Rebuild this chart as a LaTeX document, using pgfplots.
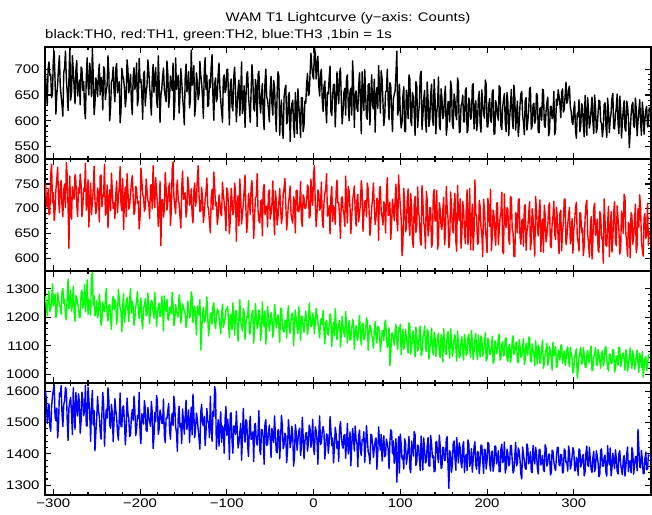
\documentclass[border=0pt]{standalone}
\usepackage{pgfplots}
\usepackage{pgfplotstable}
\pgfplotsset{compat=1.18}
\usepackage{fontspec}
\setmainfont{Liberation Sans}[FakeStretch=1.2]

\pgfplotstableread{
t a b c d
-309 688 751 1275 1601
-308 662 708 1232 1572
-307 631 703 1206 1497
-306 701 741 1268 1528
-305 714 688 1293 1560
-304 688 690 1221 1489
-303 690 769 1230 1472
-302 645 790 1259 1551
-301 652 712 1318 1583
-300 719 733 1240 1604
-299 735 676 1262 1620
-298 676 698 1281 1517
-297 613 739 1199 1506
-296 650 760 1215 1546
-295 671 784 1287 1451
-294 703 721 1262 1495
-293 726 692 1243 1594
-292 668 747 1236 1583
-291 648 757 1211 1618
-290 631 705 1290 1529
-289 609 684 1302 1487
-288 693 739 1248 1556
-287 703 750 1264 1570
-286 735 702 1203 1612
-285 682 793 1191 1603
-284 655 768 1271 1508
-283 620 703 1335 1443
-282 681 620 1230 1547
-281 741 766 1257 1568
-280 640 691 1296 1580
-279 655 679 1222 1525
-278 726 744 1245 1462
-277 698 731 1310 1611
-276 664 719 1218 1535
-275 633 769 1186 1478
-274 697 756 1276 1596
-273 717 708 1269 1549
-272 648 684 1252 1521
-271 665 742 1231 1592
-270 679 731 1199 1567
-269 631 770 1201 1466
-268 704 750 1284 1503
-267 700 684 1296 1597
-266 659 708 1232 1574
-265 676 741 1253 1521
-264 621 735 1316 1540
-263 604 792 1219 1619
-262 685 697 1255 1489
-261 722 709 1332 1489
-260 670 759 1210 1612
-259 650 663 1264 1574
-258 712 722 1237 1525
-257 689 752 1208 1440
-256 647 688 1348 1551
-255 740 713 1357 1602
-254 690 740 1244 1493
-253 612 786 1276 1538
-252 633 716 1205 1410
-251 683 690 1225 1466
-250 676 701 1259 1512
-249 647 742 1198 1583
-248 689 731 1216 1538
-247 710 673 1281 1521
-246 650 766 1247 1474
-245 684 768 1172 1447
-244 674 704 1189 1527
-243 621 727 1253 1596
-242 705 725 1233 1559
-241 699 790 1219 1425
-240 641 687 1262 1496
-239 658 694 1302 1542
-238 668 748 1211 1514
-237 726 661 1187 1611
-236 692 718 1240 1571
-235 600 738 1246 1493
-234 626 696 1198 1482
-233 675 772 1158 1558
-232 680 737 1255 1530
-231 704 701 1274 1439
-230 657 712 1227 1505
-229 637 680 1263 1576
-228 701 729 1245 1541
-227 711 756 1176 1516
-226 654 692 1205 1468
-225 668 723 1298 1444
-224 676 743 1267 1513
-223 596 785 1231 1594
-222 618 709 1219 1487
-221 702 696 1150 1487
-220 687 761 1236 1549
-219 681 658 1283 1553
-218 663 720 1182 1502
-217 627 744 1214 1429
-216 645 684 1249 1476
-215 718 771 1269 1578
-214 699 735 1228 1531
-213 654 699 1185 1512
-212 672 706 1260 1455
-211 690 730 1301 1462
-210 638 752 1214 1518
-209 612 767 1256 1541
-208 684 726 1238 1507
-207 703 688 1172 1584
-206 661 697 1196 1539
-205 672 745 1237 1458
-204 712 740 1257 1480
-203 629 711 1291 1523
-202 643 715 1221 1512
-201 721 659 1195 1596
-200 675 683 1243 1463
-199 680 782 1268 1433
-198 652 758 1190 1528
-197 603 728 1160 1515
-196 690 724 1232 1495
-195 696 695 1244 1570
-194 629 701 1265 1546
-193 655 760 1205 1476
-192 668 737 1209 1471
-191 718 716 1286 1548
-190 697 711 1240 1519
-189 667 680 1177 1503
-188 641 745 1226 1488
-187 611 749 1260 1567
-186 679 700 1253 1534
-185 709 787 1219 1417
-184 655 729 1197 1452
-183 684 702 1288 1532
-182 703 763 1231 1503
-181 640 735 1168 1586
-180 626 713 1217 1568
-179 726 664 1241 1462
-178 672 690 1249 1481
-177 597 756 1203 1540
-176 649 625 1204 1526
-175 661 718 1275 1498
-174 686 718 1238 1497
-173 702 683 1152 1575
-172 660 699 1275 1459
-171 648 773 1229 1436
-170 637 742 1221 1514
-169 716 697 1264 1513
-168 691 714 1195 1538
-167 626 743 1190 1561
-166 645 752 1230 1476
-165 687 666 1237 1447
-164 670 695 1212 1509
-163 659 781 1288 1529
-162 712 795 1246 1490
-161 602 724 1171 1584
-160 633 706 1188 1552
-159 722 690 1245 1486
-158 661 739 1224 1467
-157 680 758 1209 1408
-156 688 716 1201 1521
-155 615 711 1279 1552
-154 650 685 1259 1485
-153 701 661 1180 1497
-152 677 744 1214 1433
-151 647 776 1248 1543
-150 624 719 1235 1506
-149 592 728 1222 1463
-148 683 732 1213 1519
-147 710 683 1164 1571
-146 656 698 1186 1478
-145 666 764 1257 1505
-144 695 746 1229 1540
-143 625 707 1198 1436
-142 640 711 1205 1495
-141 737 740 1290 1549
-140 669 688 1272 1461
-139 684 671 1181 1591
-138 707 737 1221 1527
-137 609 752 1240 1452
-136 631 705 1196 1482
-135 693 718 1138 1530
-134 674 759 1240 1511
-133 641 787 1226 1478
-132 652 726 1208 1448
-131 715 694 1262 1415
-130 688 696 1085 1534
-129 673 743 1151 1558
-128 644 719 1210 1497
-127 605 672 1234 1490
-126 697 691 1183 1520
-125 722 718 1188 1427
-124 661 734 1226 1469
-123 688 762 1272 1545
-122 628 707 1199 1503
-121 630 697 1135 1503
-120 680 674 1171 1452
-119 664 651 1213 1584
-118 705 723 1215 1488
-117 728 739 1176 1440
-116 649 698 1238 1536
-115 601 774 1251 1520
-114 672 745 1187 1615
-113 683 706 1160 1597
-112 637 713 1203 1415
-111 644 668 1229 1463
-110 690 684 1222 1509
-109 712 728 1203 1425
-108 664 711 1175 1492
-107 638 690 1142 1534
-106 618 686 1209 1437
-105 597 754 1247 1489
-104 683 729 1164 1480
-103 689 712 1179 1402
-102 655 693 1197 1511
-101 660 655 1226 1551
-100 699 742 1228 1459
-99 700 735 1238 1510
-98 641 705 1180 1476
-97 592 650 1129 1382
-96 670 677 1212 1528
-95 681 741 1205 1531
-94 628 718 1156 1443
-93 619 688 1251 1402
-92 686 695 1193 1489
-91 704 752 1137 1489
-90 659 734 1221 1462
-89 598 634 1224 1536
-88 632 708 1170 1478
-87 662 726 1116 1419
-86 679 665 1204 1436
-85 610 760 1262 1468
-84 651 722 1185 1497
-83 714 669 1170 1380
-82 614 690 1152 1451
-81 633 708 1231 1545
-80 668 737 1216 1473
-79 587 768 1122 1437
-78 642 699 1178 1509
-77 691 652 1203 1503
-76 695 676 1199 1428
-75 648 731 1259 1391
-74 625 714 1141 1482
-73 597 689 1145 1520
-72 657 743 1190 1446
-71 709 757 1215 1452
-70 680 701 1224 1470
-69 624 640 1109 1375
-68 619 683 1168 1493
-67 680 722 1248 1497
-66 664 725 1201 1439
-65 589 771 1161 1428
-64 690 696 1175 1466
-63 696 676 1226 1538
-62 637 671 1210 1412
-61 615 714 1118 1398
-60 651 718 1159 1478
-59 672 645 1254 1476
-58 608 740 1186 1451
-57 583 749 1168 1367
-56 675 688 1223 1497
-55 700 705 1106 1509
-54 646 705 1164 1427
-53 640 663 1238 1431
-52 622 732 1198 1469
-51 598 738 1152 1492
-50 660 679 1180 1445
-49 686 690 1217 1389
-48 633 709 1194 1481
-47 611 756 1129 1463
-46 678 692 1158 1436
-45 667 647 1246 1521
-44 615 736 1210 1463
-43 579 718 1163 1406
-42 652 667 1183 1404
-41 695 683 1209 1478
-40 687 713 1167 1472
-39 572 741 1112 1384
-38 624 701 1229 1448
-37 640 670 1233 1523
-36 583 684 1176 1490
-35 566 729 1151 1417
-34 646 742 1149 1429
-33 661 761 1189 1466
-32 669 708 1190 1457
-31 594 657 1127 1372
-30 598 680 1207 1413
-29 648 712 1241 1509
-28 655 724 1161 1475
-27 560 746 1144 1420
-26 611 690 1188 1438
-25 633 679 1212 1488
-24 640 671 1215 1461
-23 589 724 1101 1361
-22 568 716 1172 1392
-21 655 651 1226 1493
-20 628 737 1194 1469
-19 575 737 1164 1412
-18 662 695 1143 1444
-17 628 694 1237 1472
-16 607 710 1180 1482
-15 568 755 1119 1395
-14 645 677 1205 1421
-13 645 664 1203 1517
-12 579 728 1166 1456
-11 591 722 1148 1384
-10 638 701 1191 1437
-9 634 701 1222 1466
-8 671 713 1187 1468
-7 692 748 1139 1409
-6 649 742 1162 1432
-5 652 681 1250 1492
-4 693 686 1206 1479
-3 731 760 1167 1421
-2 704 719 1171 1450
-1 688 707 1215 1510
0 681 772 1198 1415
1 742 787 1142 1398
2 730 707 1183 1486
3 681 664 1231 1473
4 712 690 1209 1443
5 725 738 1180 1367
6 668 731 1160 1462
7 648 697 1128 1521
8 690 702 1189 1430
9 700 754 1196 1435
10 641 680 1174 1471
11 618 662 1224 1487
12 667 711 1151 1468
13 677 730 1106 1384
14 629 739 1182 1425
15 596 771 1188 1464
16 655 685 1145 1459
17 652 689 1137 1402
18 683 706 1173 1437
19 706 649 1212 1519
20 618 724 1196 1476
21 610 745 1098 1426
22 648 674 1158 1451
23 671 706 1183 1371
24 670 697 1134 1419
25 588 668 1230 1485
26 635 735 1177 1464
27 695 758 1121 1417
28 659 712 1160 1440
29 633 712 1176 1376
30 692 683 1189 1481
31 702 640 1096 1503
32 640 720 1141 1456
33 594 724 1204 1428
34 619 698 1167 1418
35 655 689 1143 1459
36 663 664 1132 1462
37 611 766 1221 1386
38 684 711 1178 1437
39 689 671 1110 1497
40 632 745 1150 1400
41 600 735 1189 1420
42 657 702 1119 1470
43 663 650 1124 1362
44 611 683 1161 1428
45 716 717 1193 1481
46 676 730 1184 1451
47 587 746 1088 1409
48 649 696 1145 1489
49 658 665 1171 1448
50 625 717 1128 1433
51 618 729 1119 1359
52 668 673 1166 1457
53 693 691 1207 1476
54 641 708 1139 1412
55 575 757 1103 1395
56 695 736 1173 1445
57 647 654 1180 1442
58 620 689 1121 1471
59 699 715 1125 1373
60 654 716 1157 1423
61 606 684 1198 1490
62 603 752 1185 1449
63 670 739 1084 1406
64 672 695 1140 1397
65 592 646 1172 1368
66 647 670 1163 1462
67 689 701 1136 1461
68 629 721 1127 1430
69 623 752 1092 1389
70 681 704 1155 1418
71 578 668 1185 1440
72 651 682 1132 1451
73 664 721 1110 1351
74 624 715 1168 1403
75 707 636 1166 1486
76 663 741 1149 1439
77 615 745 1079 1412
78 697 694 1115 1462
79 681 683 1152 1377
80 636 667 1154 1425
81 591 714 1118 1458
82 609 708 1178 1391
83 656 651 1190 1396
84 658 729 1137 1447
85 700 763 1094 1434
86 640 686 1110 1416
87 602 692 1163 1352
88 674 713 1030 1438
89 667 638 1072 1477
90 615 671 1143 1470
91 579 719 1145 1401
92 643 699 1126 1441
93 651 676 1102 1370
94 658 718 1150 1402
95 693 750 1175 1449
96 735 676 1113 1310
97 611 655 1087 1386
98 621 768 1164 1455
99 671 733 1150 1339
100 612 707 1176 1463
101 586 679 1068 1431
102 598 605 1121 1384
103 648 627 1158 1392
104 666 741 1087 1352
105 580 714 1106 1448
106 579 653 1158 1437
107 659 660 1131 1367
108 640 720 1102 1389
109 604 740 1074 1415
110 689 668 1181 1456
111 681 646 1168 1354
112 601 731 1070 1340
113 591 702 1093 1441
114 655 637 1143 1419
115 646 622 1152 1393
116 617 708 1096 1471
117 572 725 1061 1462
118 676 652 1166 1363
119 667 665 1134 1376
120 587 744 1081 1428
121 613 694 1090 1425
122 633 681 1154 1386
123 690 635 1169 1347
124 696 626 1065 1457
125 583 747 1076 1408
126 609 717 1128 1349
127 642 672 1139 1451
128 659 661 1170 1411
129 600 619 1097 1371
130 578 735 1079 1376
131 675 718 1157 1426
132 641 645 1149 1452
133 589 660 1053 1362
134 602 702 1090 1361
135 651 701 1121 1459
136 671 622 1162 1433
137 606 630 1084 1389
138 591 726 1068 1394
139 680 739 1147 1343
140 646 675 1131 1345
141 575 676 1062 1437
142 616 737 1099 1440
143 633 618 1128 1392
144 685 632 1145 1372
145 591 712 1071 1460
146 583 698 1058 1425
147 662 664 1139 1354
148 644 658 1119 1358
149 604 697 1043 1421
150 610 723 1161 1419
151 648 627 1112 1379
152 667 647 1074 1380
153 572 745 1070 1446
154 589 703 1137 1455
155 637 680 1150 1363
156 636 621 1091 1290
157 598 640 1056 1410
158 677 734 1160 1402
159 666 706 1123 1341
160 594 663 1063 1366
161 585 651 1085 1433
162 652 709 1127 1441
163 641 731 1139 1388
164 611 635 1094 1348
165 602 614 1046 1452
166 683 747 1152 1410
167 673 688 1108 1371
168 577 676 1057 1435
169 579 720 1067 1419
170 629 620 1115 1369
171 634 650 1132 1356
172 650 715 1078 1426
173 598 696 1050 1439
174 598 654 1140 1340
175 659 629 1117 1390
176 664 699 1066 1398
177 577 738 1076 1347
178 582 627 1129 1445
179 644 672 1141 1430
180 638 741 1089 1360
181 603 617 1059 1374
182 606 668 1153 1417
183 668 709 1120 1342
184 672 616 1052 1381
185 584 653 1078 1421
186 620 758 1119 1439
187 639 690 1143 1365
188 581 683 1076 1351
189 596 628 1051 1408
190 643 631 1138 1404
191 657 717 1098 1337
192 596 705 1060 1373
193 578 662 1135 1428
194 660 647 1124 1427
195 632 603 1063 1379
196 615 719 1084 1338
197 605 699 1110 1415
198 679 660 1146 1412
199 671 640 1047 1352
200 588 611 1055 1379
201 588 721 1127 1436
202 631 694 1113 1433
203 643 664 1069 1370
204 601 739 1071 1346
205 597 615 1095 1404
206 657 642 1132 1409
207 660 697 1038 1345
208 574 687 1047 1364
209 575 648 1118 1425
210 639 626 1108 1425
211 628 711 1072 1368
212 612 712 1082 1383
213 601 627 1130 1410
214 668 655 1141 1343
215 664 682 1049 1343
216 590 691 1058 1416
217 583 733 1103 1431
218 627 614 1116 1372
219 641 609 1064 1377
220 653 730 1069 1438
221 596 671 1126 1339
222 579 662 1127 1355
223 655 702 1056 1415
224 636 698 1045 1401
225 571 638 1098 1362
226 604 628 1104 1367
227 630 725 1041 1426
228 661 721 1062 1427
229 606 660 1117 1381
230 585 650 1135 1339
231 669 604 1070 1348
232 645 603 1077 1396
233 582 692 1106 1437
234 612 687 1114 1362
235 638 651 1045 1369
236 570 717 1040 1419
237 592 720 1121 1409
238 631 643 1099 1380
239 652 628 1060 1335
240 657 676 1063 1320
241 610 679 1096 1422
242 597 624 1125 1398
243 573 705 1034 1376
244 640 708 1052 1355
245 645 616 1108 1351
246 582 654 1090 1432
247 599 663 1067 1418
248 621 690 1131 1368
249 662 714 1127 1383
250 665 617 1048 1407
251 584 634 1043 1344
252 590 700 1107 1340
253 631 682 1086 1427
254 634 640 1070 1389
255 595 604 1029 1368
256 603 725 1118 1421
257 653 697 1078 1402
258 649 659 1036 1354
259 578 645 1102 1336
260 577 694 1094 1412
261 624 718 1037 1415
262 626 613 1058 1365
263 601 661 1091 1372
264 661 679 1120 1395
265 660 612 1021 1349
266 593 707 1041 1344
267 587 688 1070 1429
268 617 633 1086 1418
269 635 647 1108 1361
270 646 666 1032 1373
271 571 704 1044 1398
272 580 712 1097 1400
273 628 626 1083 1333
274 628 621 1055 1339
275 604 669 1015 1412
276 609 685 1113 1408
277 657 715 1066 1375
278 573 648 1072 1356
279 582 638 1097 1347
280 642 703 1023 1391
281 630 681 1030 1421
282 660 637 1085 1421
283 648 609 1075 1366
284 632 690 1050 1362
285 606 697 1101 1398
286 655 615 1103 1397
287 662 652 1039 1339
288 617 672 1061 1343
289 622 720 1082 1416
290 649 718 1031 1410
291 675 627 1052 1372
292 634 641 1088 1374
293 640 668 1096 1345
294 662 687 1047 1425
295 667 703 1026 1407
296 626 629 1094 1352
297 618 640 1072 1363
298 598 680 1058 1390
299 593 610 1004 1420
300 622 657 1020 1409
301 637 676 1060 1346
302 580 702 1076 1347
303 566 713 1089 1389
304 615 642 985 1380
305 608 633 1018 1332
306 641 614 1057 1416
307 579 692 1077 1411
308 590 690 1095 1358
309 633 652 1035 1367
310 628 661 1040 1393
311 591 605 1093 1398
312 569 625 1070 1330
313 649 681 1027 1343
314 612 707 1023 1404
315 572 717 1068 1425
316 645 648 1084 1365
317 619 630 1040 1360
318 586 602 1048 1421
319 598 660 1086 1384
320 623 684 1099 1350
321 646 598 1012 1341
322 599 635 1017 1388
323 575 701 1064 1408
324 650 711 1066 1343
325 627 646 1094 1355
326 577 655 1035 1410
327 587 679 1031 1393
328 616 616 1087 1372
329 640 612 1072 1327
330 638 694 1044 1337
331 599 688 1021 1412
332 594 639 1075 1416
333 569 642 1082 1361
334 587 590 1029 1361
335 631 720 1046 1389
336 635 676 1090 1396
337 590 626 1098 1342
338 568 624 1053 1329
339 644 671 1024 1426
340 619 705 1011 1384
341 577 603 1071 1365
342 603 651 1069 1419
343 615 694 1039 1330
344 644 612 1038 1354
345 653 641 1087 1402
346 586 693 1082 1376
347 584 714 1008 1353
348 611 635 1019 1413
349 626 625 1063 1387
350 652 706 1064 1345
351 596 680 1031 1336
352 575 657 1095 1401
353 648 608 1090 1410
354 624 618 1026 1368
355 567 695 1045 1348
356 597 684 1071 1334
357 621 650 1075 1381
358 639 729 1049 1395
359 585 723 1014 1329
360 580 649 1086 1359
361 638 632 1068 1399
362 628 604 1010 1422
363 604 672 1033 1343
364 548 668 1060 1375
365 578 601 1092 1378
366 610 692 1041 1340
367 630 686 1020 1420
368 636 628 1083 1405
369 590 644 1059 1335
370 587 675 1017 1363
371 644 709 1036 1391
372 623 611 1068 1392
373 571 626 1084 1346
374 599 700 1039 1478
375 619 663 1007 1417
376 641 728 1074 1358
377 597 702 1052 1356
378 572 633 1024 1411
379 636 617 1079 1383
380 615 604 990 1337
381 574 681 1023 1338
382 603 690 1054 1386
383 621 640 1062 1406
384 628 647 1012 1350
385 588 711 1030 1351
386 594 626 1068 1397
387 626 655 1070 1392
}\lcdata

\pgfplotsset{
  panel/.style={
    anchor=north west,
    scale only axis,
    width=606bp, height=112bp,
    xmin=-309.6, xmax=389,
    xtick={-300,-200,-100,0,100,200,300},
    xticklabels={},
    minor x tick num=4,
    minor y tick num=4,
    tick pos=both,
    tick align=inside,
    major tick length=6bp,
    minor tick length=3bp,
    axis line style={line width=1.4bp},
    every tick/.style={line width=1.1bp, black},
    /pgf/number format/assume math mode=true,
    /pgf/number format/1000 sep={},
    ticklabel style={font=\fontsize{12.5}{15}\selectfont},
    yticklabel style={xshift=-2bp},
    scaled ticks=false,
    clip=true,
  },
  lc/.style={line width=1.4bp, line join=round},
}

\begin{document}
\begin{tikzpicture}
\useasboundingbox (0,0) rectangle (652bp,-515bp);
\node[font=\fontsize{12.5}{15}\selectfont] at (348bp,-18bp) {WAM T1 Lightcurve (y−axis: Counts)};
\node[anchor=west, font=\fontsize{12.5}{15}\selectfont, inner sep=0pt] at (45bp,-35bp) {black:TH0, red:TH1, green:TH2, blue:TH3 ,1bin = 1s};

\begin{axis}[panel, at={(45bp,-47bp)}, ymin=526, ymax=743, ytick={550,600,650,700}]
\addplot[black, lc] table[x=t, y=a] {\lcdata};
\end{axis}

\begin{axis}[panel, at={(45bp,-159bp)}, ymin=574, ymax=800.5, ytick={600,650,700,750,800}]
\addplot[red, lc] table[x=t, y=b] {\lcdata};
\end{axis}

\begin{axis}[panel, at={(45bp,-271bp)}, ymin=969, ymax=1363, ytick={1000,1100,1200,1300}]
\addplot[green, lc] table[x=t, y=c] {\lcdata};
\end{axis}

\begin{axis}[panel, at={(45bp,-383bp)}, ymin=1269, ymax=1626, ytick={1300,1400,1500,1600},
  xticklabels={−300,−200,−100,0,100,200,300}]
\addplot[blue, lc] table[x=t, y=d] {\lcdata};
\end{axis}
\end{tikzpicture}
\end{document}
